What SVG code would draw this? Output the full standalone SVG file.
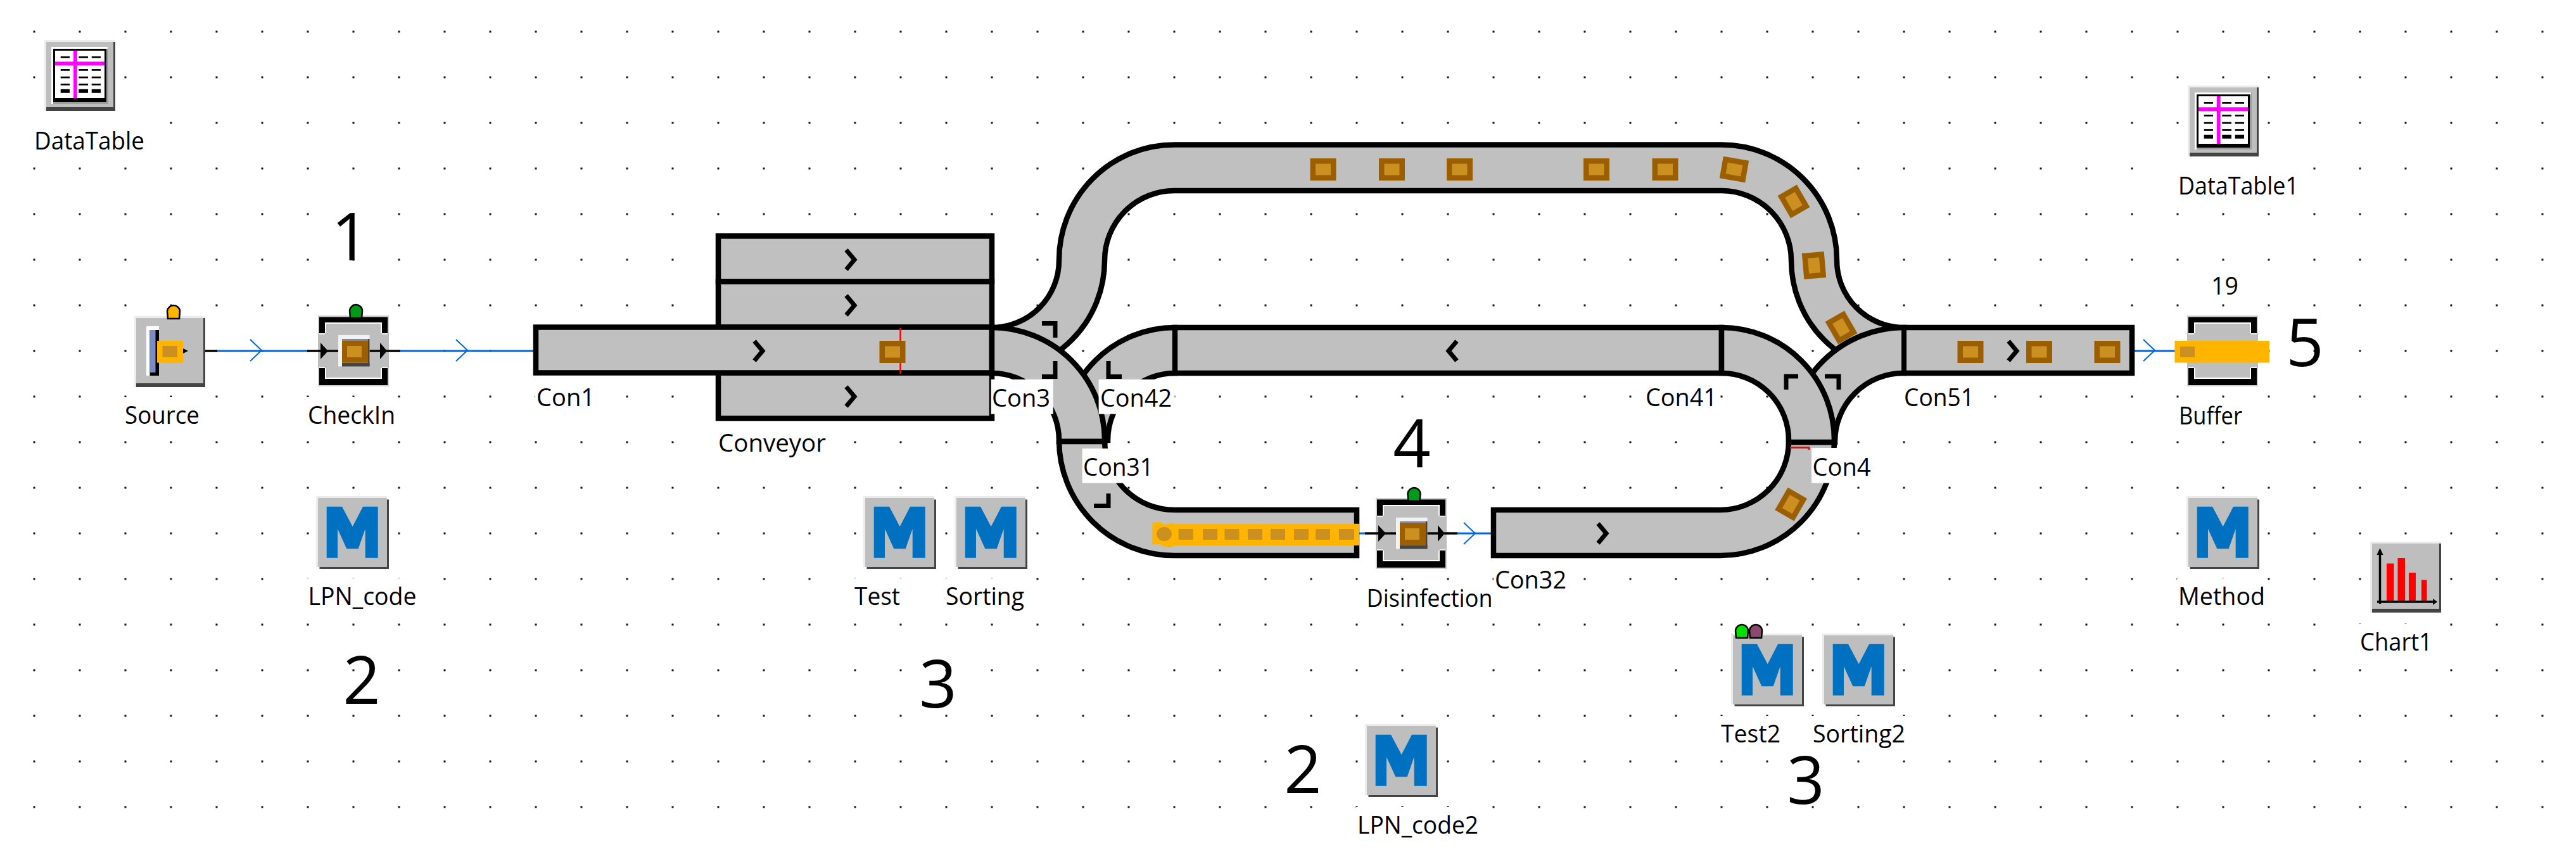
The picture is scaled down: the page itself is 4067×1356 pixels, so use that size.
<svg xmlns="http://www.w3.org/2000/svg" width="4067" height="1356" viewBox="0 0 4067 1356">
<style>
text{font-family:"Open Sans","Noto Sans",sans-serif;fill:#000}
.lb{font-size:39px}
.num{font-size:104px;text-anchor:middle}
.bg{fill:#fff}
.belt{fill:#c0c0c0;stroke:#000;stroke-width:8.5;stroke-linejoin:miter}
.mark{fill:none;stroke:#000;stroke-width:7}
.link{fill:none;stroke:#0066dd;stroke-width:3}
.chev{fill:none;stroke:#0066dd;stroke-width:2}
.blk{fill:none;stroke:#000;stroke-width:3.5}
.arrow{fill:none;stroke:#000;stroke-width:7}
.lamp{stroke:#000;stroke-width:2.5}
</style>
<defs>
<pattern id="dots" x="52.5" y="48.5" width="72" height="72" patternUnits="userSpaceOnUse"><rect width="3" height="3" fill="#111"/></pattern>
<g id="plate"><rect width="112" height="112" fill="#ececec"/><rect x="3" y="3" width="109" height="109" fill="#444"/><rect x="3" y="3" width="106" height="103" fill="#bebebe"/></g>
<g id="tableIcon"><use href="#plate"/>
<rect x="11" y="11" width="90" height="90" fill="#9e9e9e"/><path d="M11 11H100V14H14V101H11Z" fill="#fff"/>
<rect x="14" y="14" width="84" height="84" fill="#000"/><rect x="17" y="17" width="78" height="75" fill="#fff"/>
<rect x="46" y="17" width="5.700" height="75" fill="#f0f"/><rect x="17" y="34.300" width="78" height="6" fill="#f0f"/>
<path d="M25.700 26h14.300v2.700h-14.300zM54.300 26h14.700v2.700h-14.700zM74.700 26h14.300v2.700h-14.300zM25.700 46h14.300v2.700h-14.300zM54.300 46h14.700v2.700h-14.700zM74.700 46h14.300v2.700h-14.300zM25.700 57.700h14.300v2.700h-14.300zM54.300 57.700h14.700v2.700h-14.700zM74.700 57.700h14.300v2.700h-14.300zM25.700 69h14.300v2.700h-14.300zM54.300 69h14.700v2.700h-14.700zM74.700 69h14.300v2.700h-14.300zM25.700 77.700h14.300v6h-14.300zM54.300 77.700h14.700v6h-14.700zM74.700 77.700h14.300v6h-14.300z" fill="#000"/></g>
<g id="methodIcon"><rect x="5.500" y="5.500" width="109.500" height="109.500" fill="#444"/><rect width="112" height="112" fill="#ececec"/><rect x="3" y="3" width="109" height="109" fill="#bebebe"/>
<path d="M16.700 16.700H41L57.700 48.300L74 16.700H97.700V97.700H77.700V51.700L66.700 83.300H48.300L34 51.700V97.700H16.700Z" fill="#0070c0"/></g>
<g id="chartIcon"><use href="#plate"/>
<path d="M26 34.500h11.500V95H26zM43.500 26H55V95H43.500zM61 49H72V95H61zM81 60.500h8.600V95H81z" fill="#f00"/>
<path d="M15.500 18V98M11 95H102" fill="none" stroke="#000" stroke-width="3.500"/><path d="M15.500 10L10.500 21H20.500ZM106 95L99 90V100Z" fill="#000"/></g>
<g id="stationBase"><rect width="112" height="112" fill="#cfcfcf"/><rect x="2" y="2.500" width="108" height="107.500" fill="#000"/>
<rect x="11" y="11" width="90" height="89" fill="#fff"/><rect x="13" y="13" width="86" height="85" fill="#bebebe"/>
<rect y="28" width="112" height="55" fill="#bebebe"/><path d="M2 28H11V30H2ZM101 28H110V30H101ZM2 81H11V83H2ZM101 81H110V83H101Z" fill="#eee"/></g>
<g id="stationInner"><path d="M-17 56H129.500" class="blk"/><path d="M4 43V69L16 56ZM98 43V69L109 56Z" fill="#000"/>
<rect x="32" y="31" width="49.500" height="49.500" fill="#f2f2f2"/><rect x="38" y="37" width="41" height="3" fill="#7787bb"/><rect x="38" y="74.600" width="43.500" height="6" fill="#444"/><rect x="79" y="37" width="2.500" height="43" fill="#444"/>
<rect x="38" y="40" width="41" height="34.600" fill="#9c5f00"/><rect x="46" y="48" width="23" height="18" fill="#cc9020"/></g>
<g id="part"><rect x="-20.500" y="-17.500" width="41" height="35" fill="#9c5f00"/><rect x="-12" y="-9" width="24" height="18" fill="#cc9020"/></g>
<path id="lamp" class="lamp" d="M2 22L1 10C2 4 7 1 11 1C16 1 21 5 21 11L20 22Z"/>
<path id="bchev" d="M-18 -17L0 0L-18 17" class="chev"/>
<path id="kchev" d="M-7 -15.500L6 0L-7 15.500" class="arrow"/>
</defs>
<rect width="4067" height="1356" fill="#fff"/>
<rect id="grid" x="52" y="48" width="3964" height="1228" fill="url(#dots)"/>

<g id="connectors">
<path d="M343 554H485M631 554H842M2146 842H2155M2302 842H2354M3366 554H3434" class="link"/>
<use href="#bchev" x="413" y="553"/><use href="#bchev" x="738" y="553"/><use href="#bchev" x="2146" y="842"/><use href="#bchev" x="2329" y="842"/><use href="#bchev" x="3402" y="553"/>
</g>

<g id="Conveyor">
<rect x="1134" y="372.500" width="432" height="72" class="belt"/><rect x="1134" y="444.500" width="432" height="72" class="belt"/><rect x="1134" y="588.500" width="432" height="72" class="belt"/>
<use href="#kchev" x="1343" y="410"/><use href="#kchev" x="1343" y="482"/><use href="#kchev" x="1343" y="626"/>
<rect class="bg" x="1131" y="671" width="176" height="54"/><text class="lb" x="1134" y="713" textLength="170" lengthAdjust="spacingAndGlyphs">Conveyor</text>
</g>
<g id="Con1">
<rect x="846" y="516.500" width="720" height="72" class="belt"/><use href="#kchev" x="1198" y="554"/>
</g>
<g id="Con41"><rect x="1854" y="517" width="864" height="72" class="belt"/><g transform="translate(2293 554) scale(-1 1)"><use href="#kchev"/></g></g>
<g id="Con42"><path class="belt" d="M1855 517A178 178 0 0 0 1677 695H1749A106 106 0 0 1 1855 589Z"/></g>
<g id="Con5"><path class="belt" d="M1566 517A106 106 0 0 0 1672 411A182 182 0 0 1 1854 228.500H2718A182 182 0 0 1 2900 410A106 106 0 0 0 3006 517V589A178 178 0 0 1 2828 411A110 110 0 0 0 2718 301H1854A110 110 0 0 0 1744 411A178 178 0 0 1 1566 589Z"/></g>
<g id="Con3"><path class="belt" d="M1566 517A178 178 0 0 1 1744 695V697H1672V695A106 106 0 0 0 1566 589Z"/></g>
<g id="Con31"><path class="belt" d="M1672 697V695A182 182 0 0 0 1854 877H2142V805H1854A110 110 0 0 1 1744 695V697Z"/></g>
<g id="Con32"><path class="belt" d="M2358 805H2716A108 108 0 0 0 2824 697H2896A180 180 0 0 1 2716 877H2358Z"/><use href="#kchev" x="2530" y="842"/></g>
<g id="Con51"><path class="belt" d="M3006 517A181 181 0 0 0 2825 698H2897A108 108 0 0 1 3005 589H3366V517Z"/><path d="M3006 517V589" fill="none" stroke="#000" stroke-width="8"/><use href="#kchev" x="3178" y="554"/></g>
<g id="Con4"><path class="belt" d="M2718 517A178 178 0 0 1 2896 695V698H2824V695A106 106 0 0 0 2718 589Z"/></g>

<g id="markers">
<path class="mark" d="M1645 510.500H1666V533M1666 570V594.500H1645M1750 570V594.500H1771M2839 594H2820V615M2881 594H2903V615M1750 779V798.500H1727"/>
<path d="M1421.500 518V590" stroke="#f00" stroke-width="2.500" fill="none"/>
<path d="M2826 706.500H2856V710" stroke="#f00" stroke-width="3" fill="none"/>
</g>

<g id="parts">
<use href="#part" x="1409" y="555.500"/>
<use href="#part" x="2089" y="267.500"/><use href="#part" x="2197.500" y="267.500"/><use href="#part" x="2304.500" y="267.500"/><use href="#part" x="2520.500" y="267.500"/><use href="#part" x="2629" y="267.500"/>
<g transform="translate(2738 267.500) rotate(10)"><use href="#part"/></g>
<g transform="translate(2832 318) rotate(60)"><use href="#part"/></g>
<g transform="translate(2864 419) rotate(85)"><use href="#part"/></g>
<g transform="translate(2907 517) rotate(60)"><use href="#part"/></g>
<g transform="translate(2827.600 796) rotate(-60)"><use href="#part"/></g>
<use href="#part" x="3111" y="555.500"/><use href="#part" x="3219.500" y="555.500"/><use href="#part" x="3327" y="555.500"/>
</g>

<g id="queue">
<path d="M1853 826.700H2146V861H1853L1850 864L1838 863L1832 859L1819 859V825L1832 824L1838 828L1850 826Z" fill="#ffb400"/>
<ellipse cx="1838" cy="843" rx="12" ry="11" fill="#cc9020"/>
<path d="M1860.700 835h23v17h-23zM1899 835h23v17h-23zM1933.400 835h23v17h-23zM1970 835h23v17h-23zM2006 835h23v17h-23zM2043 835h23v17h-23zM2077 835h23v17h-23zM2114 835h24v17h-24z" fill="#cc9020"/>
</g>

<g id="belt-labels">
<rect class="bg" x="845" y="599" width="100" height="54"/><text class="lb" x="847" y="641" textLength="92" lengthAdjust="spacingAndGlyphs">Con1</text>
<rect class="bg" x="1564.700" y="599" width="98" height="54.600"/><text class="lb" x="1566" y="641.500" textLength="92" lengthAdjust="spacingAndGlyphs">Con3</text>
<rect class="bg" x="1734.600" y="599" width="120" height="54.600"/><text class="lb" x="1737" y="641.500" textLength="113" lengthAdjust="spacingAndGlyphs">Con42</text>
<rect class="bg" x="1708.600" y="708" width="115" height="54.500"/><text class="lb" x="1710" y="750.700" textLength="111" lengthAdjust="spacingAndGlyphs">Con31</text>
<rect class="bg" x="2596" y="599" width="120" height="54"/><text class="lb" x="2598" y="641" textLength="113" lengthAdjust="spacingAndGlyphs">Con41</text>
<rect class="bg" x="2860" y="707" width="97" height="55.500"/><text class="lb" x="2861.500" y="750.700" textLength="92" lengthAdjust="spacingAndGlyphs">Con4</text>
<rect class="bg" x="3004" y="599" width="116" height="54"/><text class="lb" x="3006" y="641" textLength="111" lengthAdjust="spacingAndGlyphs">Con51</text>
<rect class="bg" x="2358" y="887" width="118" height="54"/><text class="lb" x="2360" y="929" textLength="113" lengthAdjust="spacingAndGlyphs">Con32</text>
</g>

<g id="DataTable"><use href="#tableIcon" x="70" y="63"/><rect class="bg" x="50" y="190" width="182" height="54"/><text class="lb" x="54" y="236" textLength="174" lengthAdjust="spacingAndGlyphs">DataTable</text></g>
<g id="DataTable1"><use href="#tableIcon" x="3454" y="135"/><rect class="bg" x="3436" y="262" width="198" height="54"/><text class="lb" x="3439" y="307" textLength="190" lengthAdjust="spacingAndGlyphs">DataTable1</text></g>

<g id="Source"><path d="M323 554H343" class="blk"/><use href="#plate" x="212" y="499"/>
<rect x="231" y="515" width="20" height="78" fill="#fff"/><rect x="236.500" y="521" width="14.500" height="72" fill="#000"/><rect x="236.500" y="521" width="9" height="67" fill="#7a8cc4"/>
<rect x="248" y="538" width="41" height="34.600" fill="#ffb400"/><rect x="256.600" y="546" width="23.400" height="18" fill="#cc9020"/><path d="M289 550L297 554L289 558Z" fill="#000"/>
<use href="#lamp" x="263" y="481" fill="#ffb400"/>
<rect class="bg" x="195" y="627" width="125" height="54"/><text class="lb" x="197" y="669" textLength="118" lengthAdjust="spacingAndGlyphs">Source</text></g>

<g id="CheckIn"><use href="#stationBase" x="502" y="498"/><use href="#stationInner" x="502" y="498"/>
<use href="#lamp" x="551" y="480" fill="#009a1a"/>
<rect class="bg" x="484" y="627" width="145" height="54"/><text class="lb" x="486" y="669" textLength="138" lengthAdjust="spacingAndGlyphs">CheckIn</text></g>

<g id="Disinfection"><use href="#stationBase" x="2172" y="786"/><use href="#stationInner" x="2172" y="786"/>
<use href="#lamp" x="2221.500" y="769" fill="#009a1a"/>
<rect class="bg" x="2155" y="916" width="204" height="54"/><text class="lb" x="2157.500" y="958" textLength="199" lengthAdjust="spacingAndGlyphs">Disinfection</text></g>

<g id="Buffer"><use href="#stationBase" x="3453" y="498"/><rect x="3433.500" y="538" width="149.500" height="34.500" fill="#ffb400"/><rect x="3442" y="547" width="23" height="17" fill="#cc9020"/>
<text class="lb" x="3491" y="465" textLength="43" lengthAdjust="spacingAndGlyphs">19</text>
<rect class="bg" x="3438" y="628" width="106" height="54"/><text class="lb" x="3440" y="670" textLength="100" lengthAdjust="spacingAndGlyphs">Buffer</text></g>

<g id="LPN_code"><use href="#methodIcon" x="499" y="783"/><rect class="bg" x="484" y="913" width="178" height="54"/><text class="lb" x="486.500" y="955" textLength="171" lengthAdjust="spacingAndGlyphs">LPN_code</text></g>
<g id="Test"><use href="#methodIcon" x="1363" y="783"/><rect class="bg" x="1347" y="913" width="80" height="54"/><text class="lb" x="1349" y="955" textLength="72" lengthAdjust="spacingAndGlyphs">Test</text></g>
<g id="Sorting"><use href="#methodIcon" x="1507" y="783"/><rect class="bg" x="1491" y="913" width="130" height="54"/><text class="lb" x="1493" y="955" textLength="124" lengthAdjust="spacingAndGlyphs">Sorting</text></g>
<g id="Method"><use href="#methodIcon" x="3452" y="783"/><rect class="bg" x="3437" y="913" width="142" height="54"/><text class="lb" x="3439" y="955" textLength="137" lengthAdjust="spacingAndGlyphs">Method</text></g>
<g id="Test2"><use href="#methodIcon" x="2733" y="1000"/><use href="#lamp" x="2739" y="985" fill="#00e000"/><use href="#lamp" x="2761" y="985" fill="#8b4a6b"/><rect class="bg" x="2715" y="1130" width="100" height="54"/><text class="lb" x="2717" y="1171.500" textLength="94" lengthAdjust="spacingAndGlyphs">Test2</text></g>
<g id="Sorting2"><use href="#methodIcon" x="2877" y="1000"/><rect class="bg" x="2860" y="1130" width="152" height="54"/><text class="lb" x="2862" y="1171.500" textLength="146" lengthAdjust="spacingAndGlyphs">Sorting2</text></g>
<g id="LPN_code2"><use href="#methodIcon" x="2155" y="1143"/><rect class="bg" x="2141" y="1274" width="198" height="54"/><text class="lb" x="2143" y="1316" textLength="191" lengthAdjust="spacingAndGlyphs">LPN_code2</text></g>
<g id="Chart1"><use href="#chartIcon" x="3742" y="855"/><rect class="bg" x="3724" y="985" width="120" height="54"/><text class="lb" x="3726" y="1027" textLength="114" lengthAdjust="spacingAndGlyphs">Chart1</text></g>

<g id="annotations">
<text class="num" x="553" y="411">1</text>
<text class="num" x="571" y="1111">2</text>
<text class="num" x="1481" y="1117">3</text>
<text class="num" x="2229" y="737">4</text>
<text class="num" x="2057" y="1252">2</text>
<text class="num" x="2851" y="1269">3</text>
<text class="num" x="3639" y="578">5</text>
</g>
</svg>
